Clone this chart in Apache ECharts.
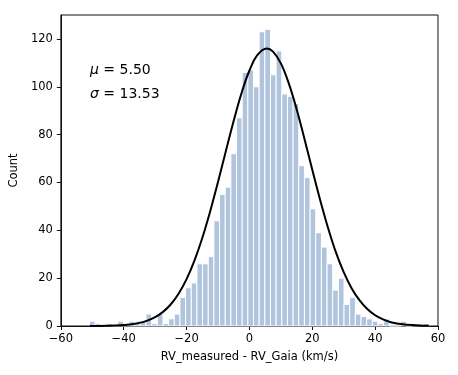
<!DOCTYPE html>
<html lang="en">
<head>
    <meta charset="UTF-8"/>
    <style>
        html, body { margin: 0; padding: 0; background: #fff; }
    </style>
</head>
<body>

<div id="main" style="width: 458px;height:375px;"></div>

<script src="https://cdn.jsdelivr.net/npm/echarts@6/dist/echarts.min.js"></script>
<script type="text/javascript">

    // histogram: 60 bins of 1.8 km/s starting at -50.9
    var binLeft = -50.9;
    var binWidth = 1.8;
    var counts = [2, 1, 0, 1, 0, 2, 1, 2, 2, 2,
                  5, 1, 5, 1, 3, 5, 12, 16, 18, 26,
                  26, 29, 44, 55, 58, 72, 87, 106, 107, 100,
                  123, 124, 105, 115, 97, 96, 93, 67, 62, 49,
                  39, 33, 26, 15, 20, 9, 12, 5, 4, 3,
                  2, 1, 3, 0, 0, 2, 0, 1, 1, 1];

    // gaussian fit curve
    var curveX = [-50.9, -45, -40, -37.5, -35, -32.5, -30, -27.5, -25, -22.5,
                  -20, -17.5, -15, -12.5, -10, -7.5, -5, -2.5, 0, 2.5,
                  5.5, 7.5, 10, 12.5, 15, 17.5, 20, 22.5, 25, 27.5,
                  30, 32.5, 35, 37.5, 40, 42.5, 45, 47.5, 50, 55, 57.1];
    var curveY = [0.03, 0.11, 0.41, 0.74, 1.3, 2.25, 3.7, 5.9, 9.1, 13.6,
                  19.6, 27.3, 36.8, 47.9, 60.2, 73.1, 85.8, 97.4, 106.8, 113.2,
                  116, 114.7, 109.8, 101.5, 90.7, 78.3, 65.3, 52.7, 41.1, 30.9,
                  22.5, 15.8, 10.8, 7.1, 4.5, 2.8, 1.6, 0.9, 0.5, 0.14, 0.07];

    var xTicks = [-60, -40, -20, 0, 20, 40, 60];
    var yTicks = [0, 20, 40, 60, 80, 100, 120];

    var mu = '5.50';
    var sigma = '13.53';

    var FONT = 'DejaVu Sans';

    function minusFmt(v) {
        return v < 0 ? '\u2212' + (-v) : String(v);
    }

    var histData = counts.map(function (c, i) {
        var x0 = binLeft + binWidth * i;
        return [x0, x0 + binWidth, c];
    });

    var lineData = curveX.map(function (x, i) {
        return [x, curveY[i]];
    });

    var myChart = echarts.init(document.getElementById('main'), null, {renderer: 'canvas'});

    var options = {
        animation: false,
        backgroundColor: '#fff',
        grid: {
            left: 59, top: 15, width: 379, height: 311,
            show: true, borderColor: '#111', borderWidth: 1,
            backgroundColor: 'transparent'
        },
        xAxis: {
            type: 'value',
            min: -60, max: 60, interval: 20,
            name: 'RV_measured - RV_Gaia (km/s)',
            nameLocation: 'middle',
            nameGap: 25,
            nameTextStyle: {fontFamily: FONT, fontSize: 11.5, color: '#000'},
            axisLine: {show: true, onZero: false, lineStyle: {color: '#111', width: 1}},
            axisTick: {show: true, length: 4, lineStyle: {color: '#111'}, customValues: xTicks},
            axisLabel: {
                fontFamily: FONT, fontSize: 11.5, color: '#000', margin: 7,
                customValues: xTicks, formatter: minusFmt
            },
            splitLine: {show: false}
        },
        yAxis: {
            type: 'value',
            min: 0, max: 130, interval: 20,
            name: 'Count',
            nameLocation: 'middle',
            nameGap: 31,
            nameTextStyle: {fontFamily: FONT, fontSize: 11.5, color: '#000'},
            axisLine: {show: true, onZero: false, lineStyle: {color: '#111', width: 1}},
            axisTick: {show: true, length: 4, lineStyle: {color: '#111'}, customValues: yTicks},
            axisLabel: {
                fontFamily: FONT, fontSize: 11.5, color: '#000', margin: 8,
                customValues: yTicks, formatter: minusFmt
            },
            splitLine: {show: false}
        },
        graphic: [
            {
                type: 'text', left: 90, top: 63, z: 10,
                style: {
                    text: '{i|\u03bc} = ' + mu,
                    font: '14px "' + FONT + '"', fill: '#000',
                    rich: {i: {fontStyle: 'italic', fontFamily: FONT, fontSize: 14}}
                }
            },
            {
                type: 'text', left: 90, top: 87, z: 10,
                style: {
                    text: '{i|\u03c3} = ' + sigma,
                    font: '14px "' + FONT + '"', fill: '#000',
                    rich: {i: {fontStyle: 'italic', fontFamily: FONT, fontSize: 14}}
                }
            }
        ],
        series: [
            {
                type: 'custom',
                z: 2,
                encode: {x: [0, 1], y: 2},
                data: histData,
                renderItem: function (params, api) {
                    var p0 = api.coord([api.value(0), api.value(2)]);
                    var p1 = api.coord([api.value(1), 0]);
                    return {
                        type: 'rect',
                        shape: {x: p0[0], y: p0[1], width: p1[0] - p0[0], height: p1[1] - p0[1]},
                        style: {fill: '#b0c4de', stroke: '#fff', lineWidth: 1}
                    };
                }
            },
            {
                type: 'line',
                z: 3,
                data: lineData,
                smooth: 0.4,
                showSymbol: false,
                lineStyle: {color: '#000', width: 2}
            }
        ]
    };

    myChart.setOption(options);

</script>

</body>
</html>
